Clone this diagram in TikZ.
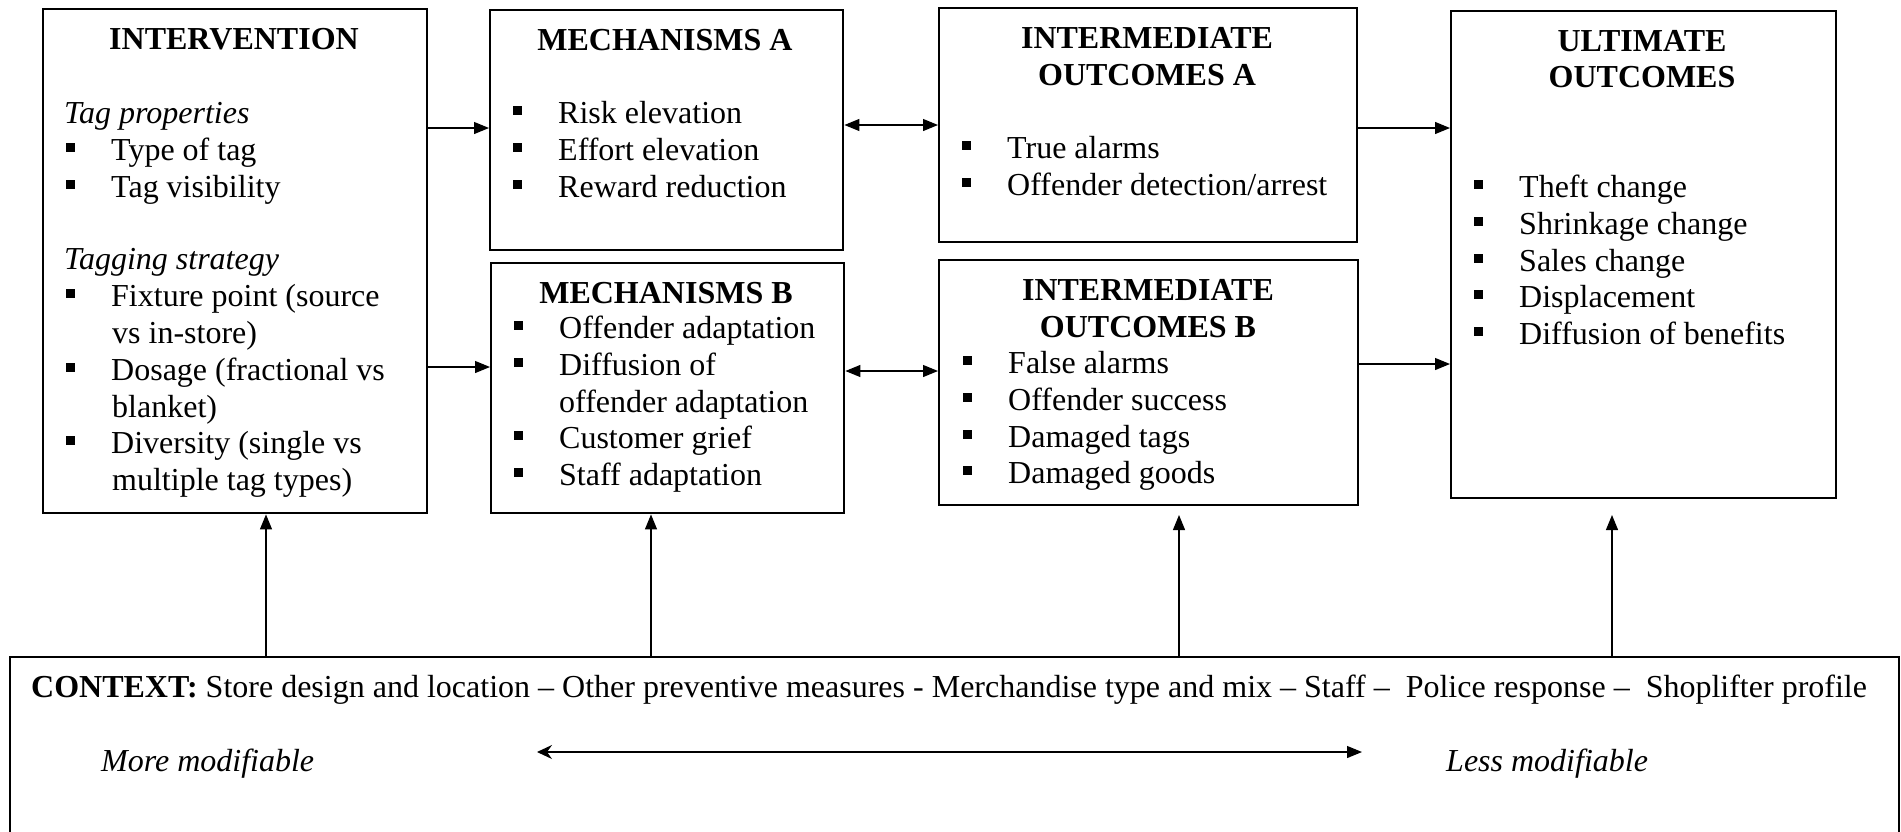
\documentclass[tikz,border=0pt]{standalone}
\usepackage{fontspec}
\setmainfont{Liberation Serif}
\usetikzlibrary{arrows.meta}
\newcounter{ln}
\tikzset{
  box/.style={draw, line width=2.4pt, anchor=north west, inner sep=0pt},
  txt/.style={anchor=base west, inner sep=0pt, font=\fontsize{32}{36.8}\selectfont},
  hd/.style={anchor=base, inner sep=0pt, font=\fontsize{32}{36.8}\selectfont\bfseries},
  bsq/.style={fill=black, draw=none, minimum size=9pt, inner sep=0pt},
  arr/.style={line width=1.2pt, -{Triangle[length=15pt,width=12pt]}},
  darr/.style={line width=1.2pt, {Triangle[length=15pt,width=12pt]}-{Triangle[length=15pt,width=12pt]}},
  harr/.style={line width=1.2pt, {Stealth[length=15pt,width=14pt,inset=5pt]}-{Triangle[length=15pt,width=12pt]}}
}
\newcommand\bitem[3]{%
  \stepcounter{ln}%
  \node[bsq] (q\theln) at ({#1+28},{#2-13}) {};
  \node[txt] (t\theln) at ({#1+69},#2) {#3};
}
\newcommand\contline[3]{%
  \stepcounter{ln}%
  \node[txt] (t\theln) at ({#1+69},#2) {#3};
}
\newcommand\ihead[3]{%
  \stepcounter{ln}%
  \node[txt] (t\theln) at ({#1+22},#2) {\itshape #3};
}
\begin{document}
\begin{tikzpicture}[x=1pt,y=-1pt]
\useasboundingbox (0,0) rectangle (1901,831);
\clip (0,0) rectangle (1901,831);
\fill[white] (0,0) rectangle (1901,831);

% boxes
\node[box, minimum width=384pt, minimum height=504pt] (int) at (42,8) {};
\node[box, minimum width=353pt, minimum height=240pt] (ma) at (489,9) {};
\node[box, minimum width=353pt, minimum height=250pt] (mb) at (490,262) {};
\node[box, minimum width=418pt, minimum height=234pt] (ia) at (938,7) {};
\node[box, minimum width=419pt, minimum height=245pt] (ib) at (938,259) {};
\node[box, minimum width=385pt, minimum height=487pt] (uo) at (1450,10) {};
\node[box, minimum width=1889pt, minimum height=260pt] (ctx) at (9,656) {};

% INTERVENTION
\node[hd] (h1) at (234,49) {INTERVENTION};
\ihead{42}{123}{Tag properties}
\bitem{42}{160}{Type of tag}
\bitem{42}{197}{Tag visibility}
\ihead{42}{269}{Tagging strategy}
\bitem{42}{306}{Fixture point (source}
\contline{43}{343}{vs in-store)}
\bitem{42}{380}{Dosage (fractional vs}
\contline{43}{417}{blanket)}
\bitem{42}{453}{Diversity (single vs}
\contline{43}{490}{multiple tag types)}

% MECHANISMS A
\node[hd] (h2) at (665,50) {MECHANISMS A};
\bitem{489}{123}{Risk elevation}
\bitem{489}{160}{Effort elevation}
\bitem{489}{197}{Reward reduction}

% MECHANISMS B
\node[hd] (h3) at (666,303) {MECHANISMS B};
\bitem{490}{338}{Offender adaptation}
\bitem{490}{375}{Diffusion of}
\contline{490}{412}{offender adaptation}
\bitem{490}{448}{Customer grief}
\bitem{490}{485}{Staff adaptation}

% INTERMEDIATE OUTCOMES A
\node[hd] (h4) at (1147,48) {INTERMEDIATE};
\node[hd] (h5) at (1147,85) {OUTCOMES A};
\bitem{938}{158}{True alarms}
\bitem{938}{195}{Offender detection/arrest}

% INTERMEDIATE OUTCOMES B
\node[hd] (h6) at (1148,300) {INTERMEDIATE};
\node[hd] (h7) at (1148,337) {OUTCOMES B};
\bitem{939}{373}{False alarms}
\bitem{939}{410}{Offender success}
\bitem{939}{447}{Damaged tags}
\bitem{939}{483}{Damaged goods}

% ULTIMATE OUTCOMES
\node[hd] (h8) at (1642,51) {ULTIMATE};
\node[hd] (h9) at (1642,87) {OUTCOMES};
\bitem{1450}{197}{Theft change}
\bitem{1450}{234}{Shrinkage change}
\bitem{1450}{271}{Sales change}
\bitem{1450}{307}{Displacement}
\bitem{1450}{344}{Diffusion of benefits}

% CONTEXT
\node[txt] (ctxt) at (31,697) {\textbf{CONTEXT:} Store design and location – Other preventive measures - Merchandise type and mix – Staff –\ \ Police response –\ \ Shoplifter profile};
\node[txt] (more) at (101,771) {\itshape More modifiable};
\node[txt] (less) at (1446,771) {\itshape Less modifiable};
\coordinate (hl) at (537,752);
\coordinate (hr) at (1362,752);
\draw[harr] (hl) -- (hr);

% horizontal connectors
\draw[arr] (int.east |- 0,128) -- (ma.west |- 0,128);
\draw[arr] (int.east |- 0,367) -- (mb.west |- 0,367);
\draw[darr] (ma.east |- 0,125) -- (ia.west |- 0,125);
\draw[darr] (mb.east |- 0,371) -- (ib.west |- 0,371);
\draw[arr] (ia.east |- 0,128) -- (uo.west |- 0,128);
\draw[arr] (ib.east |- 0,364) -- (uo.west |- 0,364);

% vertical connectors from context
\coordinate (v1) at (266,0);
\coordinate (v2) at (651,0);
\coordinate (v3) at (1179,515);
\coordinate (v4) at (1612,515);
\draw[arr] (ctx.north -| v1) -- (int.south -| v1);
\draw[arr] (ctx.north -| v2) -- (mb.south -| v2);
\draw[arr] (ctx.north -| v3) -- (v3);
\draw[arr] (ctx.north -| v4) -- (v4);
\end{tikzpicture}
\end{document}
